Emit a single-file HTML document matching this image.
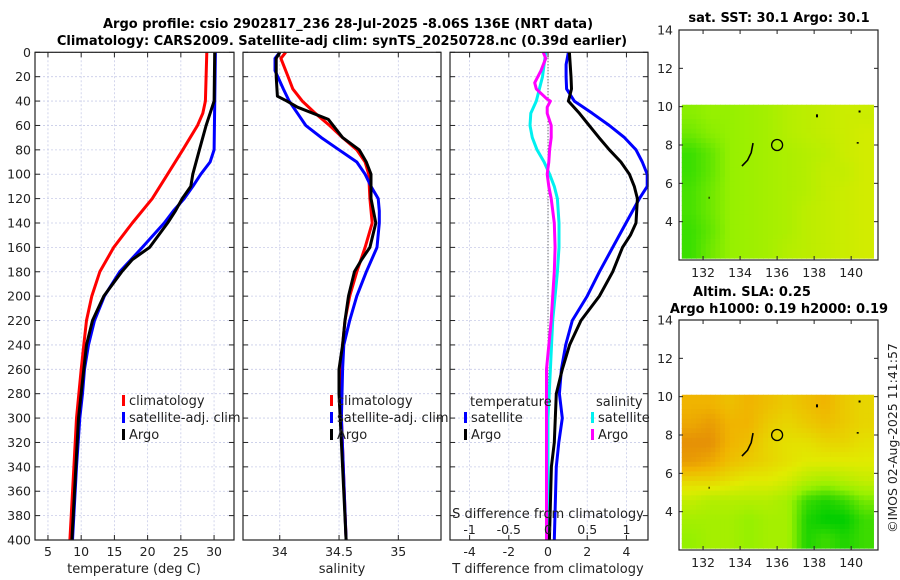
<!DOCTYPE html>
<html><head><meta charset="utf-8">
<style>
html,body{margin:0;padding:0;background:#fff;}
svg{display:block;font-family:"DejaVu Sans","Liberation Sans",sans-serif;}
</style></head>
<body>
<svg id="fig" width="900" height="580" viewBox="0 0 900 580" xmlns="http://www.w3.org/2000/svg">
<text x="348" y="28" font-size="13" font-weight="bold" text-anchor="middle">Argo profile: csio 2902817_236 28-Jul-2025 -8.06S 136E (NRT data)</text>
<text x="342" y="45" font-size="13" font-weight="bold" text-anchor="middle">Climatology: CARS2009. Satellite-adj clim: synTS_20250728.nc (0.39d earlier)</text>
<text x="779" y="22" font-size="13" font-weight="bold" text-anchor="middle">sat. SST: 30.1 Argo: 30.1</text>
<text x="752" y="296" font-size="13" font-weight="bold" text-anchor="middle">Altim. SLA: 0.25</text>
<text x="779" y="313" font-size="13" font-weight="bold" text-anchor="middle">Argo h1000: 0.19 h2000: 0.19</text>
<text transform="translate(897,438) rotate(-90)" font-size="12.5" fill="#222" text-anchor="middle">©IMOS 02-Aug-2025 11:41:57</text>
<g id="plots"></g>
</svg>
<script>
// ---------- profile data (depth in dbar) ----------
const tClimDepth=[0,40,50,60,80,100,120,140,160,180,200,220,240,260,300,340,400];
const tClimVal=[28.9,28.7,28.3,27.5,25.3,23,20.7,17.7,14.9,12.8,11.6,10.8,10.4,10,9.3,8.9,8.3];
const tSatDepth=[0,80,90,100,110,120,130,140,160,180,200,220,240,260,280,300,340,400];
const tSatVal=[30.2,30.0,29.4,28,26.8,25.5,23.9,22.5,19.2,15.8,13.5,12,11.1,10.5,10.2,9.8,9.3,8.7];
const tArgoDepth=[0,40,50,60,80,100,110,120,130,140,160,170,180,200,220,240,260,300,400];
const tArgoVal=[30.1,30,29.4,28.8,27.8,26.8,26.5,25.2,24.2,23,20.3,17.7,16.1,13.4,11.7,10.8,10.4,9.6,8.6];

const sClimDepth=[0,5,20,30,40,50,60,70,80,90,100,120,140,160,180,200,220,240,260,300,400];
const sClimVal=[34.05,34.01,34.07,34.11,34.19,34.30,34.42,34.53,34.65,34.72,34.75,34.76,34.78,34.72,34.65,34.59,34.55,34.53,34.52,34.52,34.56];
const sSatDepth=[0,5,15,30,40,50,60,70,80,90,100,110,120,130,140,160,180,200,220,240,260,300,400];
const sSatVal=[34.0,33.96,33.96,34.03,34.08,34.15,34.22,34.35,34.5,34.65,34.72,34.77,34.83,34.84,34.84,34.82,34.73,34.65,34.59,34.54,34.53,34.52,34.56];
const sArgoDepth=[0,5,20,36,40,45,55,70,80,90,100,120,140,160,170,180,200,220,240,260,280,320,400];
const sArgoVal=[34.0,33.97,33.97,33.98,34.06,34.15,34.41,34.53,34.67,34.73,34.77,34.77,34.81,34.76,34.69,34.63,34.58,34.55,34.53,34.5,34.5,34.52,34.56];

const dTSatDepth=[0,10,20,30,40,50,60,70,80,90,100,110,120,140,160,180,200,220,240,260,280,300,320,340,400];
const dTSatVal=[1.04,0.92,0.92,0.95,1.34,2.26,3.13,3.9,4.49,4.81,5.06,5.06,4.66,3.98,3.3,2.62,2.0,1.24,0.9,0.68,0.58,0.73,0.55,0.42,0.32];
const dTArgoDepth=[0,20,30,40,50,60,70,80,90,100,110,120,140,150,160,180,200,220,240,260,280,300,320,340,400];
const dTArgoVal=[1.09,1.17,1.2,1.04,1.6,2.1,2.6,3.13,3.72,4.15,4.4,4.56,4.49,4.2,3.8,3.3,2.62,1.68,1.1,0.73,0.42,0.37,0.32,0.17,0.07];
const dSSatDepth=[0,10,20,30,40,50,60,70,80,90,100,110,120,140,160,180,200,220,260,300,400];
const dSSatVal=[-0.03,-0.05,-0.07,-0.11,-0.15,-0.22,-0.23,-0.2,-0.14,-0.05,0.02,0.08,0.12,0.14,0.14,0.12,0.09,0.06,0.03,0.0,0.0];
const dSArgoDepth=[0,5,15,25,30,38,40,45,50,60,70,80,90,100,110,120,140,160,180,200,220,260,300,400];
const dSArgoVal=[-0.06,-0.03,-0.09,-0.17,-0.15,-0.02,0.03,-0.01,-0.01,0.04,0.04,0.02,0.01,-0.01,0.01,0.04,0.08,0.09,0.08,0.06,0.04,-0.02,-0.02,-0.02];

const depthTicks=[0,20,40,60,80,100,120,140,160,180,200,220,240,260,280,300,320,340,360,380,400];
const tempTicks=[5,10,15,20,25,30];
const salTicks=[34,34.5,35];
const salTickLabels=["34","34.5","35"];
const dTTicks=[-4,-2,0,2,4];
const dSTicks=[-1,-0.5,0,0.5,1];
const dSTickLabels=["-1","-0.5","0","0.5","1"];

// ---------- map data (rows from lat 10 down to lat 2, cols lon 130.7 -> 141.2) ----------
const sstGrid=[
[0.45,0.5,0.5,0.55,0.6,0.7,0.75,0.8,0.85,0.85],
[0.35,0.45,0.5,0.55,0.6,0.7,0.75,0.8,0.85,0.9],
[0.15,0.3,0.5,0.55,0.6,0.65,0.7,0.75,0.85,0.9],
[0.15,0.3,0.5,0.55,0.6,0.65,0.7,0.8,0.8,0.9],
[0.2,0.35,0.5,0.55,0.6,0.65,0.7,0.8,0.85,0.9],
[0.2,0.35,0.5,0.55,0.6,0.65,0.75,0.8,0.85,0.9],
[0.15,0.3,0.5,0.55,0.6,0.65,0.75,0.8,0.85,0.9],
[0.15,0.35,0.5,0.55,0.6,0.7,0.75,0.8,0.85,0.9]];
const slaGrid=[
[0.75,0.75,0.7,0.75,0.7,0.65,0.7,0.75,0.65,0.6],
[0.8,0.85,0.75,0.75,0.65,0.6,0.65,0.7,0.65,0.6],
[0.9,0.9,0.75,0.7,0.6,0.55,0.55,0.6,0.6,0.55],
[0.85,0.8,0.7,0.65,0.6,0.55,0.5,0.5,0.5,0.5],
[0.6,0.6,0.55,0.5,0.5,0.45,0.35,0.3,0.35,0.4],
[0.4,0.35,0.35,0.35,0.35,0.3,0.1,0.05,0.1,0.2],
[0.3,0.3,0.3,0.25,0.3,0.3,0.05,0.0,0.0,0.1],
[0.25,0.3,0.3,0.25,0.3,0.3,0.05,0.1,0.05,0.1]];
const mapLatTicks=[4,6,8,10,12,14];
const mapLonTicks=[132,134,136,138,140];
const argoLon=136, argoLat=8;

const NS="http://www.w3.org/2000/svg";
const root=document.getElementById('plots');
function mk(tag,attrs,parent){const e=document.createElementNS(NS,tag);for(const k in attrs)e.setAttribute(k,attrs[k]);(parent||root).appendChild(e);return e;}
function lin(d0,d1,r0,r1){return v=>r0+(v-d0)*(r1-r0)/(d1-d0);}

const Y0=52.3,Y1=540;
const yDepth=lin(0,400,Y0,Y1);

function panel(name,x0,x1,xmin,xmax,showY){
  const g=mk('g',{});
  
  
  const xs=lin(xmin,xmax,x0,x1);
  depthTicks.forEach(d=>{
    const y=yDepth(d);
    const gl=mk('line',{x1:x0,x2:x1,y1:y,y2:y,stroke:'#c8cce8','stroke-width':0.8,'stroke-dasharray':'2,2'},g);
    
    
    mk('line',{x1:x0,x2:x0+5,y1:y,y2:y,stroke:'#222','stroke-width':1},g);
    mk('line',{x1:x1,x2:x1-5,y1:y,y2:y,stroke:'#222','stroke-width':1},g);
    if(showY){const t=mk('text',{x:x0-4,y:y+4.5,'font-size':12.5,'text-anchor':'end',fill:'#222'},g);t.textContent=d;
      
      }
  });
  return {g,xs};
}
function vgrid(p,ticks){ticks.forEach(v=>{const x=p.xs(v);
  const gl=mk('line',{x1:x,x2:x,y1:Y0,y2:Y1,stroke:'#c8cce8','stroke-width':0.8,'stroke-dasharray':'2,2'},p.g);
  
  
  mk('line',{x1:x,x2:x,y1:Y1,y2:Y1-5,stroke:'#222'},p.g);mk('line',{x1:x,x2:x,y1:Y0,y2:Y0+5,stroke:'#222'},p.g);});}
function xlabels(p,ticks,labels,y,name){ticks.forEach((v,i)=>{const t=mk('text',{x:p.xs(v),y:y,'font-size':12.5,'text-anchor':'middle',fill:'#222'},p.g);t.textContent=labels?labels[i]:String(v);
  
  });}
function series(p,depths,vals,color,name,xs,w){
  const f=xs||p.xs;
  const d=depths.map((dd,i)=>(i?'L':'M')+f(vals[i]).toFixed(1)+','+yDepth(dd).toFixed(1)).join(' ');
  const pa=mk('path',{d:d,fill:'none',stroke:color,'stroke-width':w||3,'stroke-linejoin':'round'},p.g);
  
  
}
function frame(x0,x1,g){const r=mk('rect',{x:x0,y:Y0,width:x1-x0,height:Y1-Y0,fill:'none',stroke:'#222','stroke-width':1.2},g);
  
  }
function legend(g,x,y,items){items.forEach((it,i)=>{const yy=y+i*17;
  mk('rect',{x:x,y:yy-10,width:3,height:11,fill:it[0]},g);
  const t=mk('text',{x:x+7,y:yy,'font-size':13,fill:'#222'},g);t.textContent=it[1];
  
  });}

// Panel 1 temperature
const p1=panel('temperature-panel',35,234,3.05,33,true);
vgrid(p1,tempTicks);
series(p1,tClimDepth,tClimVal,'#ff0000','temp-climatology-line');
series(p1,tSatDepth,tSatVal,'#0000ff','temp-satellite-line');
series(p1,tArgoDepth,tArgoVal,'#000','temp-argo-line');
frame(35,234,p1.g);
xlabels(p1,tempTicks,null,556,'temp-tick-label');
let t=mk('text',{x:134,y:573,'font-size':13,'text-anchor':'middle',fill:'#222'},p1.g);t.textContent='temperature (deg C)';


legend(p1.g,122,405,[['#f00','climatology'],['#00f','satellite-adj. clim'],['#000','Argo']]);

// Panel 2 salinity
const p2=panel('salinity-panel',243,441,33.69,35.36,false);
vgrid(p2,salTicks);
series(p2,sClimDepth,sClimVal,'#ff0000','sal-climatology-line');
series(p2,sSatDepth,sSatVal,'#0000ff','sal-satellite-line');
series(p2,sArgoDepth,sArgoVal,'#000','sal-argo-line');
frame(243,441,p2.g);
xlabels(p2,salTicks,salTickLabels,556,'sal-tick-label');
t=mk('text',{x:342,y:573,'font-size':13,'text-anchor':'middle',fill:'#222'},p2.g);t.textContent='salinity';


legend(p2.g,330,405,[['#f00','climatology'],['#00f','satellite-adj. clim'],['#000','Argo']]);

// Panel 3 differences
const p3=panel('difference-panel',450,648,-5,5.1,false);
vgrid(p3,dTTicks);
const xsS=lin(-1.25,1.275,450,648);
mk('line',{x1:p3.xs(0),x2:p3.xs(0),y1:Y0,y2:Y1,stroke:'#444','stroke-width':1,'stroke-dasharray':'1,2'},p3.g);
series(p3,dSSatDepth,dSSatVal,'#00f0f0','sdiff-satellite-line',xsS);
series(p3,dSArgoDepth,dSArgoVal,'#ff00ff','sdiff-argo-line',xsS);
series(p3,dTSatDepth,dTSatVal,'#0000ff','tdiff-satellite-line');
series(p3,dTArgoDepth,dTArgoVal,'#000','tdiff-argo-line');
frame(450,648,p3.g);
xlabels(p3,dTTicks,null,556,'tdiff-tick-label');
dSTicks.forEach((v,i)=>{const tt=mk('text',{x:xsS(v),y:534,'font-size':12.5,'text-anchor':'middle',fill:'#222'},p3.g);tt.textContent=dSTickLabels[i];
  
  });
t=mk('text',{x:548,y:518,'font-size':13,'text-anchor':'middle',fill:'#222'},p3.g);t.textContent='S difference from climatology';


t=mk('text',{x:548,y:573,'font-size':13,'text-anchor':'middle',fill:'#222'},p3.g);t.textContent='T difference from climatology';


t=mk('text',{x:470,y:406,'font-size':13,fill:'#222'},p3.g);t.textContent='temperature';


t=mk('text',{x:596,y:406,'font-size':13,fill:'#222'},p3.g);t.textContent='salinity';


legend(p3.g,464,422,[['#00f','satellite'],['#000','Argo']]);
legend(p3.g,591,422,[['#00f0f0','satellite'],['#f0f','Argo']]);

// ---------- maps ----------
function lerpC(stops,v){v=Math.max(0,Math.min(1,v));const n=stops.length-1;const i=Math.min(n-1,Math.floor(v*n));const f=v*n-i;
  const a=stops[i],b=stops[i+1];return 'rgb('+a.map((c,k)=>Math.round(c+(b[k]-c)*f)).join(',')+')';}
const sstStops=[[20,215,0],[150,240,0],[225,235,0]];
const slaStops=[[0,205,0],[150,240,0],[225,235,0],[240,180,0],[222,120,10]];
function drawMap(name,top,grid,stops){
  const bx0=679,bx1=878,by0=top,by1=top+230;
  const lon=lin(130.7,141.45,bx0,bx1);
  const lat=lin(14,2.0,by0,by1);
  const g=mk('g',{});
  
  
  const rows=grid.length,cols=grid[0].length;
  const dx0=lon(130.85),dx1=lon(141.2),dy0=lat(10.1),dy1=lat(2.1);
  const sub=4,NR=rows*sub,NC=cols*sub;
  const cw=(dx1-dx0)/NC,ch=(dy1-dy0)/NR;
  for(let r=0;r<NR;r++)for(let c=0;c<NC;c++){
    const fr=Math.max(0,Math.min(rows-1,(r+0.5)/sub-0.5)),fc=Math.max(0,Math.min(cols-1,(c+0.5)/sub-0.5));
    const r0=Math.floor(fr),c0=Math.floor(fc),r1=Math.min(rows-1,r0+1),c1=Math.min(cols-1,c0+1);
    const ar=fr-r0,ac=fc-c0;
    const v=grid[r0][c0]*(1-ar)*(1-ac)+grid[r0][c1]*(1-ar)*ac+grid[r1][c0]*ar*(1-ac)+grid[r1][c1]*ar*ac;
    const cell=mk('rect',{x:(dx0+c*cw).toFixed(2),y:(dy0+r*ch).toFixed(2),width:(cw+0.6).toFixed(2),height:(ch+0.6).toFixed(2),fill:lerpC(stops,v)},g);
    
    
  }
  // coast fragments
  mk('path',{d:`M${lon(134.1)},${lat(6.9)} L${lon(134.4)},${lat(7.2)} L${lon(134.6)},${lat(7.6)} L${lon(134.7)},${lat(8.1)}`,stroke:'#000','stroke-width':1.6,fill:'none'},g);
  mk('rect',{x:lon(138.1),y:lat(9.6),width:2,height:3,fill:'#000'},g);
  mk('rect',{x:lon(140.4),y:lat(9.8),width:2,height:2,fill:'#000'},g);
  mk('rect',{x:lon(140.3),y:lat(8.15),width:2,height:1.5,fill:'#000'},g);
  mk('rect',{x:lon(132.3),y:lat(5.3),width:1,height:2,fill:'#000'},g);
  const c=mk('circle',{cx:lon(argoLon),cy:lat(argoLat),r:5.5,fill:'none',stroke:'#000','stroke-width':1.3},g);
  
  
  const fr=mk('rect',{x:bx0,y:by0,width:bx1-bx0,height:by1-by0,fill:'none',stroke:'#222','stroke-width':1.2},g);
  
  
  mapLatTicks.forEach(v=>{const y=lat(v);
    mk('line',{x1:bx0,x2:bx0+4,y1:y,y2:y,stroke:'#222'},g);mk('line',{x1:bx1,x2:bx1-4,y1:y,y2:y,stroke:'#222'},g);
    const tt=mk('text',{x:bx0-6,y:y+4.5,'font-size':12.5,'text-anchor':'end',fill:'#222'},g);tt.textContent=v;
    
    });
  mapLonTicks.forEach(v=>{const x=lon(v);
    mk('line',{x1:x,x2:x,y1:by1,y2:by1-4,stroke:'#222'},g);mk('line',{x1:x,x2:x,y1:by0,y2:by0+4,stroke:'#222'},g);
    const tt=mk('text',{x:x,y:by1+17,'font-size':12.5,'text-anchor':'middle',fill:'#222'},g);tt.textContent=v;
    
    });
}
drawMap('sst-map',30,sstGrid,sstStops);
drawMap('sla-map',320,slaGrid,slaStops);
</script>
</body></html>
